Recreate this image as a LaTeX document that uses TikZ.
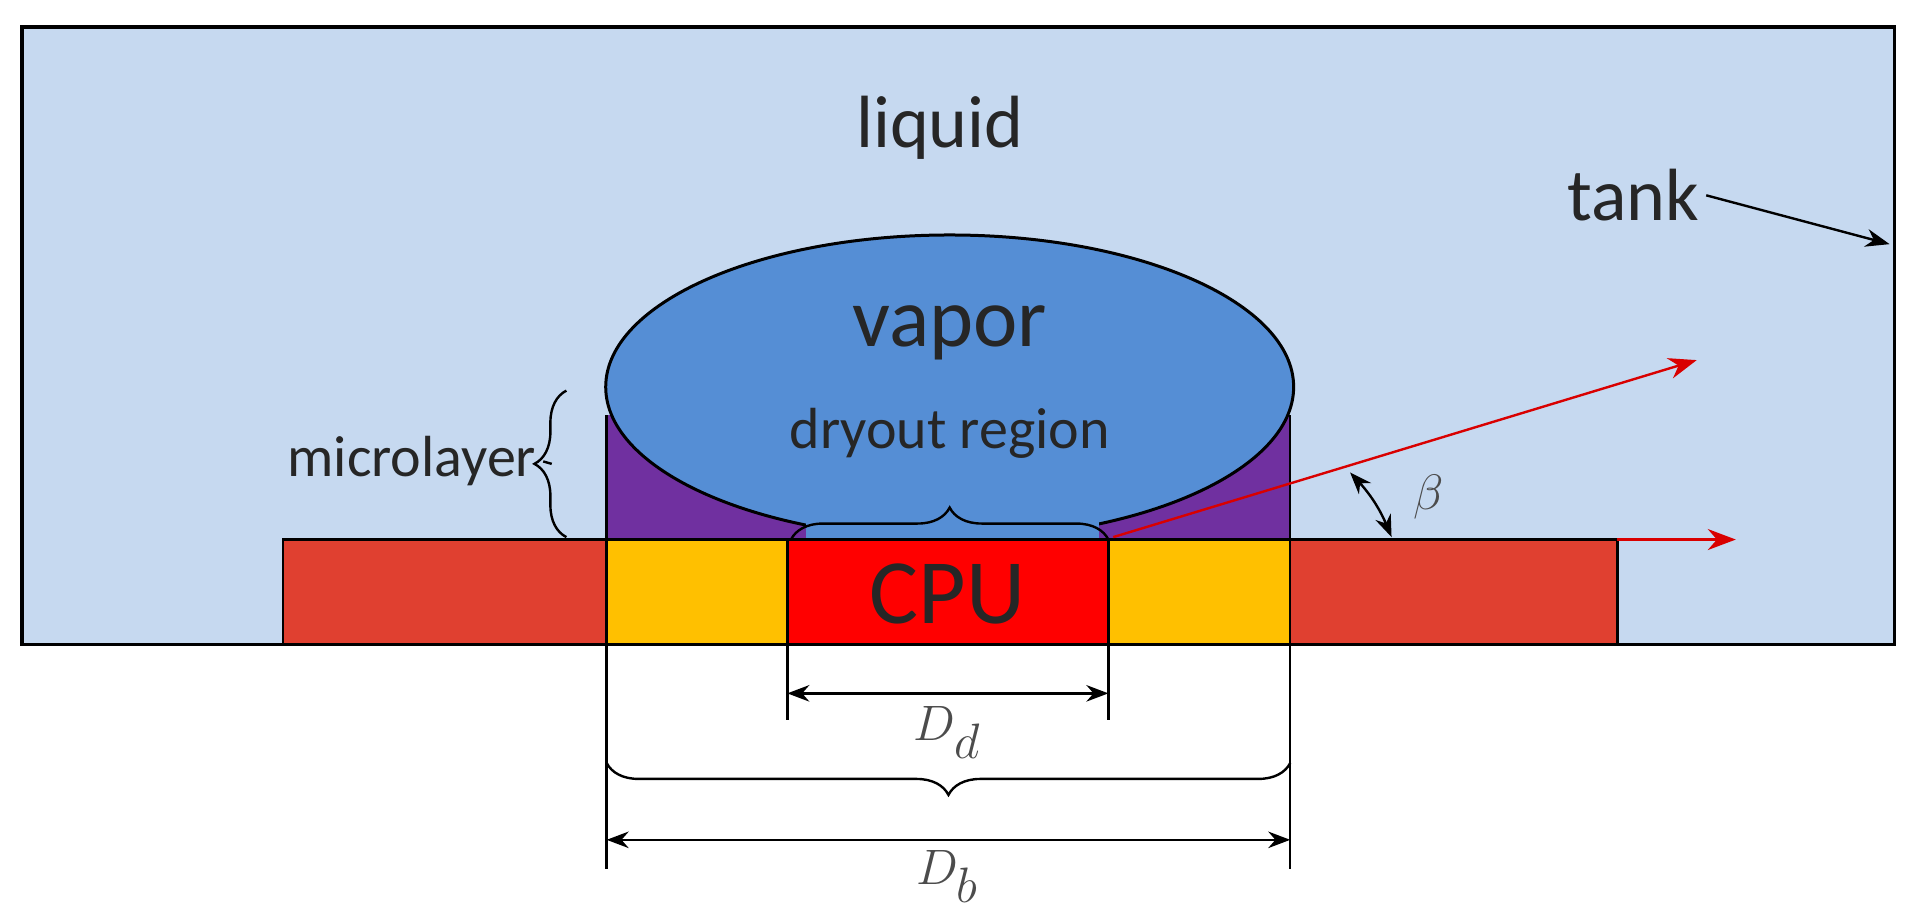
\documentclass[tikz,border=0pt]{standalone}
\usepackage{fontspec}
\setmainfont{Carlito}
\usetikzlibrary{decorations.pathreplacing,arrows.meta,shapes.geometric}
\definecolor{liq}{HTML}{C6D9F0}
\definecolor{vap}{HTML}{558ED5}
\definecolor{plate}{HTML}{E04030}
\definecolor{gold}{HTML}{FFC000}
\definecolor{purp}{HTML}{7030A0}
\tikzset{
 ln/.style={line width=1.2pt},
 lbl/.style={font=\fontsize{37}{44}\selectfont, text=black!85},
 brc/.style={draw, ln, decorate, decoration={brace, amplitude=16pt}},
 dim/.style={ln, {Stealth[length=11pt]}-{Stealth[length=11pt]}},
 redarr/.style={red!85!black, ln, -{Stealth[length=14pt]}}
}
\begin{document}
\begin{tikzpicture}[x=0.6104pt,y=-0.6104pt]
\useasboundingbox (0,0) rectangle (1568,746);
\fill[white] (0,0) rectangle (1568,746);
\draw[line width=1.8pt, fill=liq] (18,22) rectangle (1552,528);
% purple microlayer regions
\fill[purp] (497,340) rectangle (1057,442);
\draw[ln] (497,340) -- (497,442) (1057,340) -- (1057,442);
\node[draw, line width=1.5pt, fill=vap, ellipse, minimum width=344pt, minimum height=152pt, inner sep=0] (vap) at (778,317) {};
\fill[vap] (660,428) rectangle (900,442);
% plates
\draw[ln, fill=plate] (232,442) rectangle (1325,528);
\draw[ln, fill=gold] (497,442) rectangle (645,528);
\draw[ln, fill=gold] (908,442) rectangle (1057,528);
\draw[ln, fill=red] (645,442) rectangle (908,528);
\node[lbl, font=\fontsize{46}{52}\selectfont] (cpu) at (776,487) {CPU};
\node[lbl, font=\fontsize{42}{48}\selectfont] (vt) at (778,273) {vapor};
\node[lbl, font=\fontsize{29}{34}\selectfont] (dr) at (778,355) {dryout region};
\node[lbl] (liq) at (770,105) {liquid};
\node[lbl] (tank) at (1338,160) {tank};
\node[lbl, font=\fontsize{29}{34}\selectfont, anchor=east] (ml) at (445,378) {microlayer};
% braces
\draw[brc] (648,442) -- (908,442);
\draw[brc] (464,440) -- (464,320);
\draw[ln] (ml.east) -- (452,380);
% tank arrow
\coordinate (tk) at (1548,200);
\draw[ln, -{Stealth[length=12pt]}] (tank.east) -- (tk);
% red arrows
\coordinate (r0) at (912,440);
\coordinate (r1) at (1390,295);
\coordinate (h0) at (1325,442);
\coordinate (h1) at (1422,442);
\draw[redarr] (r0) -- (r1);
\draw[redarr] (h0) -- (h1);
\coordinate (b1) at (1106,387);
\coordinate (b2) at (1140,440);
\draw[dim] (b1) to[bend left=10] (b2);
\node[lbl, font=\fontsize{32}{36}\selectfont, text=black!70] (beta) at (1170,407) {$\beta$};
% dimension lines
\draw[ln] (497,528) -- (497,712) (1057,528) -- (1057,712);
\draw[ln] (645,528) -- (645,590) (908,528) -- (908,590);
\coordinate (d1) at (645,568); \coordinate (d2) at (908,568);
\draw[dim] (d1) -- (d2);
\node[lbl, text=black!70] (dd) at (776,600) {$D_d$};
\draw[brc] (1057,625) -- (497,625);
\coordinate (e1) at (497,688); \coordinate (e2) at (1057,688);
\draw[dim] (e1) -- (e2);
\node[lbl, text=black!70] (db) at (776,718) {$D_b$};
\end{tikzpicture}
\end{document}
